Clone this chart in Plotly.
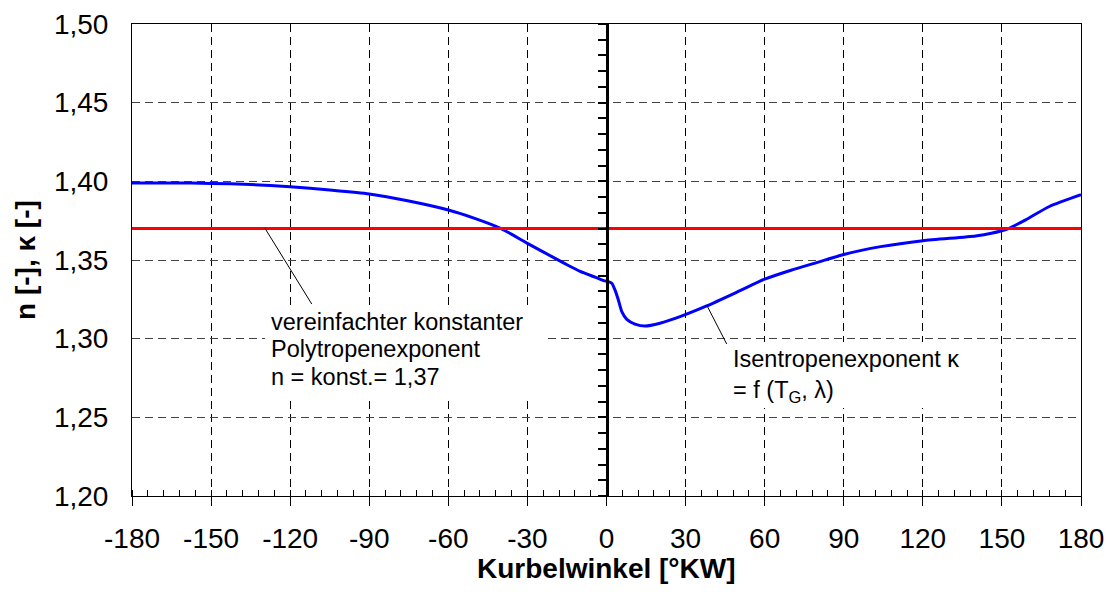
import plotly.graph_objects as go

# Data
crank_angle = [-180, -165, -150, -135, -120, -105, -90, -75, -60, -50, -40, -30, -20, -15,
               -10, -5, -2.5, -1, 0.7, 2.0, 3.2, 4.5, 5.8, 7.7, 10.8, 14.6, 20.3, 27.9,
               38, 50, 60, 70, 80, 90, 104, 120, 140, 146, 152, 159, 168, 180]
kappa = [1.399, 1.399, 1.3987, 1.398, 1.3966, 1.3945, 1.392, 1.3875, 1.3818, 1.3765, 1.370,
         1.3606, 1.3515, 1.347, 1.3428, 1.3395, 1.3379, 1.3369, 1.3362, 1.3352, 1.331, 1.3246,
         1.3172, 1.3123, 1.3093, 1.308, 1.3098, 1.314, 1.3208, 1.330, 1.3378, 1.3435,
         1.3485, 1.3535, 1.3585, 1.3623, 1.3653, 1.367, 1.3697, 1.3755, 1.384, 1.3915]
n_const = 1.37
x_ticks = list(range(-180, 181, 30))
y_ticks = [1.20, 1.25, 1.30, 1.35, 1.40, 1.45, 1.50]
y_tick_labels = ["1,20", "1,25", "1,30", "1,35", "1,40", "1,45", "1,50"]
label_const = ["vereinfachter konstanter", "Polytropenexponent", "n = konst.= 1,37"]
label_kappa = ["Isentropenexponent κ", "= f (T<sub>G</sub>, λ)"]

FONT = "Liberation Sans, Arial, sans-serif"

fig = go.Figure()
fig.add_trace(go.Scatter(x=crank_angle, y=kappa, mode="lines",
                         line=dict(color="#0000FF", width=3, shape="spline", smoothing=0.6),
                         hoverinfo="skip", showlegend=False))
fig.add_trace(go.Scatter(x=[x_ticks[0], x_ticks[-1]], y=[n_const, n_const], mode="lines",
                         line=dict(color="#FF0000", width=3), yaxis="y2",
                         hoverinfo="skip", showlegend=False))

fig.update_layout(
    width=1109, height=599,
    margin=dict(l=132, r=28, t=24, b=103, autoexpand=False),
    paper_bgcolor="white", plot_bgcolor="white",
    font=dict(family=FONT, color="black"),
    xaxis=dict(range=[-180, 180], tickmode="array", tickvals=x_ticks,
               ticktext=[str(v) for v in x_ticks], automargin=False,
               ticks="outside", ticklen=9, tickwidth=1, tickcolor="black",
               tickfont=dict(size=28, family=FONT), ticklabelstandoff=8,
               minor=dict(dtick=6, tick0=0, ticks="inside", ticklen=6, tickwidth=1,
                          tickcolor="black", showgrid=False),
               showgrid=True, gridcolor="black", gridwidth=1, griddash="8px,5px",
               zeroline=False, showline=True, linecolor="black", linewidth=1, mirror=True),
    yaxis=dict(range=[1.20, 1.50], tickmode="array", tickvals=y_ticks, ticktext=y_tick_labels,
               automargin=False,
               ticks="", tickfont=dict(size=28, family=FONT), ticklabelstandoff=17,
               showgrid=True, gridcolor="#444444", gridwidth=1, griddash="8px,5px",
               zeroline=False, showline=True, linecolor="black", linewidth=1, mirror=True),
    yaxis2=dict(range=[1.20, 1.50], overlaying="y", anchor="free", position=0.5, side="left",
                automargin=False,
                tickmode="linear", tick0=1.20, dtick=0.01, ticks="outside", ticklen=8,
                tickwidth=2, tickcolor="black", showticklabels=False, showgrid=False,
                zeroline=False, showline=True, linecolor="black", linewidth=3),
)

# axis titles
fig.add_annotation(x=0.5, y=-0.153, xref="paper", yref="paper", xanchor="center",
                   yanchor="middle", text="<b>Kurbelwinkel [°KW]</b>", showarrow=False,
                   font=dict(size=28, family=FONT, color="black"))
fig.add_annotation(x=-0.1128, y=0.5, xref="paper", yref="paper", xanchor="center",
                   yanchor="middle", text="<b>n [-], κ [-]</b>", textangle=-90,
                   showarrow=False, font=dict(size=28, family=FONT, color="black"))

# white label backgrounds (between grid and traces)
fig.add_shape(type="rect", xref="x", yref="y", x0=-129.5, x1=-23.3, y0=1.2623, y1=1.3214,
              fillcolor="white", line=dict(width=0), layer="between")
fig.add_shape(type="rect", xref="x", yref="y", x0=46.9, x1=134.1, y0=1.2559, y1=1.2979,
              fillcolor="white", line=dict(width=0), layer="between")

# leader lines
fig.add_shape(type="line", xref="x", yref="y", x0=-129.5, y0=1.370, x1=-111.8, y1=1.322,
              line=dict(color="black", width=1))
fig.add_shape(type="line", xref="x", yref="y", x0=38, y0=1.3214, x1=45.6, y1=1.2966,
              line=dict(color="black", width=1))

for txt, yv in zip(label_const, [1.3106, 1.2935, 1.2757]):
    fig.add_annotation(x=-128.0, y=yv, xref="x", yref="y", xanchor="left", yanchor="middle",
                       text=txt, showarrow=False, align="left",
                       font=dict(size=23.5, family=FONT, color="black"))
for txt, yv in zip(label_kappa, [1.2871, 1.2664]):
    fig.add_annotation(x=47.4, y=yv, xref="x", yref="y", xanchor="left", yanchor="middle",
                       text=txt, showarrow=False, align="left",
                       font=dict(size=23.5, family=FONT, color="black"))

fig.write_html("out.html", config={"displayModeBar": False},
               post_script="document.body.style.margin='0px';")
